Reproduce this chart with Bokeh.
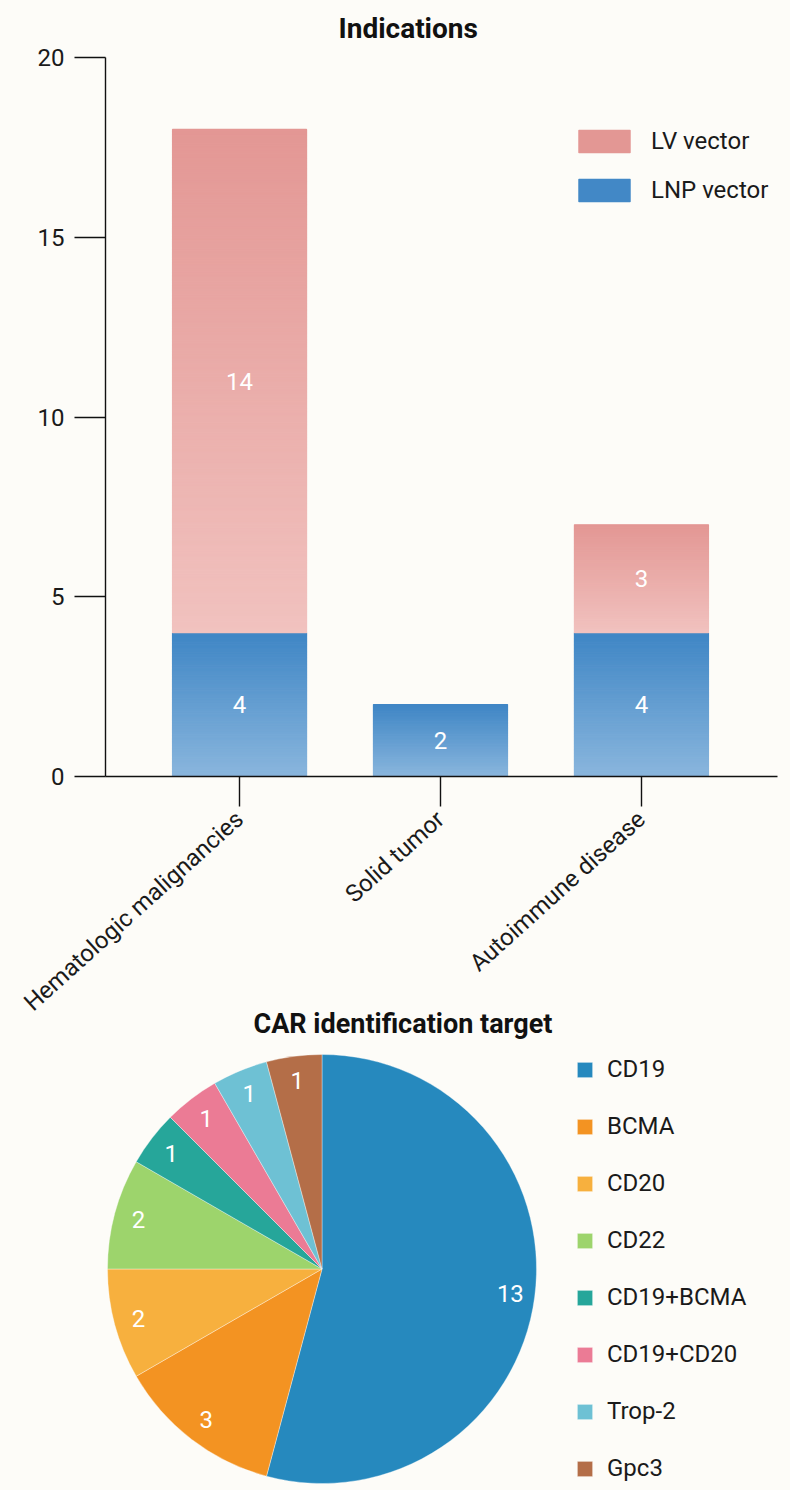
import math
from bokeh.plotting import figure
from bokeh.layouts import column
from bokeh.models import Range1d, FixedTicker, Legend, LegendItem, Title, ColumnDataSource
from bokeh.embed import file_html
from bokeh.resources import INLINE
from bokeh.core.properties import value

# ---------------- data ----------------
categories = ["Hematologic malignancies", "Solid tumor", "Autoimmune disease"]
lnp_vector = [4, 2, 4]
lv_vector = [14, 0, 3]
y_ticks = [0, 5, 10, 15, 20]

targets = ["CD19", "BCMA", "CD20", "CD22", "CD19+BCMA", "CD19+CD20", "Trop-2", "Gpc3"]
target_counts = [13, 3, 2, 2, 1, 1, 1, 1]
target_colors = ["#2689be", "#f39322", "#f7b03e", "#9dd46c", "#26a69a", "#eb7b95", "#6ec1d4", "#b46e48"]

BG = "#fdfcf8"
FONT = "Roboto"
TXT = "#1a1a1a"

LV_TOP, LV_BOTTOM = (227, 151, 148), (241, 194, 191)
LNP_TOP, LNP_BOTTOM = (63, 134, 197), (138, 182, 221)


def gradient_slices(xs, bottoms, tops, c_top, c_bottom, step=0.04):
    x, b, t, col = [], [], [], []
    for xi, lo, hi in zip(xs, bottoms, tops):
        if hi <= lo:
            continue
        n = max(10, int(round((hi - lo) / step)))
        for k in range(n):
            b.append(lo + (hi - lo) * k / n)
            t.append(lo + (hi - lo) * (k + 1) / n)
            frac = (k + 0.5) / n
            rgb = tuple(round(cb + (ct - cb) * frac) for ct, cb in zip(c_top, c_bottom))
            col.append("#%02x%02x%02x" % rgb)
            x.append(xi)
    return dict(x=x, bottom=b, top=t, color=col)


xs = list(range(len(categories)))
lv_bottom = lnp_vector
lv_top = [a + b for a, b in zip(lnp_vector, lv_vector)]

# ---------------- bar chart ----------------
LEFT, RIGHT = 105, 13
p = figure(width=790, height=1040, x_range=Range1d(-0.667, 2.677), y_range=Range1d(0, 20),
           output_backend="svg", toolbar_location=None,
           min_border_left=LEFT, min_border_right=RIGHT, min_border_top=57, min_border_bottom=264,
           background_fill_color=BG, border_fill_color=BG, outline_line_color=None)
p.grid.visible = False

BW = 0.667
d_lnp = gradient_slices(xs, [0] * len(xs), lnp_vector, LNP_TOP, LNP_BOTTOM)
d_lv = gradient_slices(xs, lv_bottom, lv_top, LV_TOP, LV_BOTTOM)
r_lnp = p.vbar(x="x", bottom="bottom", top="top", width=BW, fill_color="color", line_color="color",
               line_width=1.2, source=ColumnDataSource(d_lnp))
r_lv = p.vbar(x="x", bottom="bottom", top="top", width=BW, fill_color="color", line_color="color",
              line_width=1.2, source=ColumnDataSource(d_lv))

# value labels
lab_x, lab_y, lab_t = [], [], []
for xi, a, b in zip(xs, lnp_vector, lv_vector):
    if a > 0:
        lab_x.append(xi); lab_y.append(a / 2); lab_t.append(str(a))
    if b > 0:
        lab_x.append(xi); lab_y.append(a + b / 2); lab_t.append(str(b))
p.text(x=lab_x, y=lab_y, text=lab_t, text_color="white", text_font=value(FONT),
       text_font_size="24px", text_align="center", text_baseline="middle")

# axes
p.yaxis.ticker = FixedTicker(ticks=y_ticks)
p.xaxis.ticker = FixedTicker(ticks=xs)
p.xaxis.major_label_overrides = {i: c for i, c in zip(xs, categories)}
p.xaxis.major_label_orientation = math.radians(42)
for ax in (p.xaxis, p.yaxis):
    ax.major_tick_in = 0
    ax.minor_tick_in = 0
    ax.minor_tick_out = 0
    ax.axis_line_color = "#111111"
    ax.major_tick_line_color = "#111111"
    ax.axis_line_width = 1.4
    ax.major_tick_line_width = 1.4
    ax.major_label_text_font = FONT
    ax.major_label_text_font_size = "24px"
    ax.major_label_text_color = TXT
p.yaxis.major_tick_out = 31
p.yaxis.major_label_standoff = 10
p.xaxis.major_tick_out = 30
p.xaxis.major_label_standoff = 9

# legend: use the top slice of the first stacked bar as the swatch
lv_idx = max(i for i, xv in enumerate(d_lv["x"]) if xv == xs[0])
lnp_idx = max(i for i, xv in enumerate(d_lnp["x"]) if xv == xs[0]) - 3
leg = Legend(items=[LegendItem(label="LV vector", renderers=[r_lv], index=lv_idx),
                    LegendItem(label="LNP vector", renderers=[r_lnp], index=lnp_idx)],
             location=(467, 572), glyph_width=64, glyph_height=28, label_height=28,
             spacing=21, padding=0, margin=0, border_line_color=None, background_fill_alpha=0,
             label_text_font=FONT, label_text_font_size="24px", label_text_color=TXT,
             label_standoff=15)
p.add_layout(leg)

p.title.text = "Indications"
p.title.align = "left"
p.title.offset = 233
p.title.vertical_align = "top"
p.title.standoff = 22
p.title.text_font = FONT
p.title.text_font_size = "28px"
p.title.text_font_style = "bold"
p.title.text_color = "#111111"

pie_title = Title(text="CAR identification target", align="left", offset=148,
                  vertical_align="top", standoff=-44,
                  text_font=FONT, text_font_size="27px", text_font_style="bold",
                  text_color="#111111")
p.add_layout(pie_title, "below")

# ---------------- pie chart ----------------
# frame aligned with the bar chart frame; 1 data unit = 1 px, x measured from page left
q = figure(width=790, height=450, x_range=Range1d(LEFT, 790 - RIGHT), y_range=Range1d(0, 450),
           output_backend="svg", toolbar_location=None, x_axis_type=None, y_axis_type=None,
           min_border_left=LEFT, min_border_right=RIGHT, min_border_top=0, min_border_bottom=0,
           background_fill_color=BG, border_fill_color=BG, outline_line_color=None)
q.grid.visible = False

CX, CY, R, RL = 321.5, 221.5, 214.5, 190
total = sum(target_counts)
starts, ends, mids = [], [], []
cum = 0
for c in target_counts:
    s = math.pi / 2 - 2 * math.pi * cum / total
    cum += c
    e = math.pi / 2 - 2 * math.pi * cum / total
    starts.append(s); ends.append(e); mids.append((s + e) / 2)

wsrc = ColumnDataSource(dict(start=starts, end=ends, color=target_colors, name=targets,
                             count=target_counts))
rw = q.wedge(x=CX, y=CY, radius=R, start_angle="start", end_angle="end", direction="clock",
             fill_color="color", line_color="white", line_width=0.6, line_alpha=0.6, source=wsrc)

q.text(x=[CX + RL * math.cos(m) for m in mids], y=[CY + RL * math.sin(m) for m in mids],
       text=[str(c) for c in target_counts], text_color="white", text_font=value(FONT),
       text_font_size="24px", text_align="center", text_baseline="middle")

leg2 = Legend(items=[LegendItem(label=t, renderers=[rw], index=i) for i, t in enumerate(targets)],
              location=(575 - LEFT, 8), glyph_width=19, glyph_height=19, label_height=19,
              spacing=29, padding=0, margin=0, border_line_color=None, background_fill_alpha=0,
              label_text_font=FONT, label_text_font_size="24px", label_text_color=TXT,
              label_standoff=13)
q.add_layout(leg2)

layout = column(p, q, spacing=0)
html = file_html(layout, INLINE)
html = html.replace("<body>", "<body style=\"margin:0;background:%s\">" % BG)
open("out.html", "w").write(html)
